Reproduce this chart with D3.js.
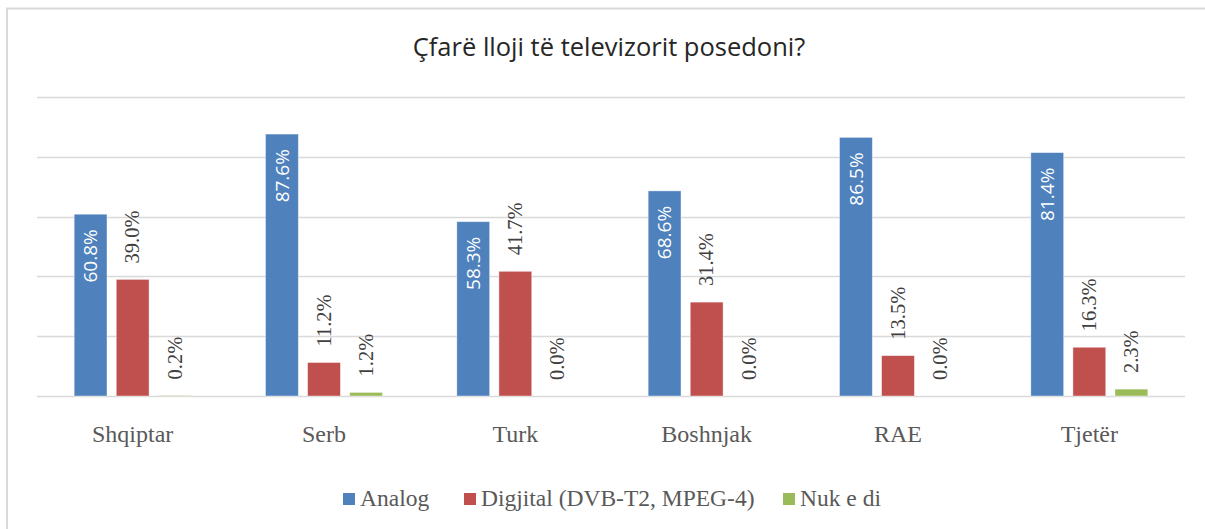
<!DOCTYPE html>
<html>
<head>
<meta charset="utf-8">
<script src="https://cdn.jsdelivr.net/npm/d3@7"></script>
<style>
  body { margin: 0; background: #fff; }
  svg { display: block; }
</style>
</head>
<body>
<div id="chart"></div>
<script>
// chart data
const categories = ['Shqiptar', 'Serb', 'Turk', 'Boshnjak', 'RAE', 'Tjetër'];
const seriesNames = ['Analog', 'Digjital (DVB-T2, MPEG-4)', 'Nuk e di'];
const analog = [60.8, 87.6, 58.3, 68.6, 86.5, 81.4];
const digjital = [39.0, 11.2, 41.7, 31.4, 13.5, 16.3];
const nukEDi = [0.2, 1.2, 0.0, 0.0, 0.0, 2.3];
const yTicks = [0, 20, 40, 60, 80, 100];

const colors = ['#4f81bd', '#c0504d', '#9bbb59'];
const allSeries = [analog, digjital, nukEDi];

var width = 1205;
var height = 529;
var serif = 'Liberation Serif, DejaVu Serif, serif';
var sans = 'Open Sans, Liberation Sans, sans-serif';

var svg = d3.select('#chart')
  .append('svg')
  .attr('width', width)
  .attr('height', height);

// outer frame (top + left edges visible)
svg.append('line')
  .attr('x1', 6).attr('x2', width).attr('y1', 8.5).attr('y2', 8.5)
  .attr('stroke', '#d9d9d9').attr('stroke-width', 2);
svg.append('line')
  .attr('x1', 7).attr('x2', 7).attr('y1', 8).attr('y2', height)
  .attr('stroke', '#d9d9d9').attr('stroke-width', 2);

svg.append('text')
  .attr('x', 609)
  .attr('y', 56)
  .attr('text-anchor', 'middle')
  .attr('font-family', sans)
  .attr('font-size', 25.5)
  .attr('fill', '#262626')
  .text('Çfarë lloji të televizorit posedoni?');

var x0 = d3.scaleBand()
  .domain(categories)
  .range([37, 1185]);

var x1 = d3.scaleBand()
  .domain(d3.range(seriesNames.length))
  .range([0, 117])
  .paddingInner(0.22);

var y = d3.scaleLinear()
  .domain([0, 100])
  .range([396, 97]);

var g = svg.append('g');

// gridlines
g.selectAll('.grid')
  .data(yTicks)
  .enter()
  .append('line')
  .attr('x1', 37)
  .attr('x2', 1185)
  .attr('y1', function (d) { return Math.round(y(d)) + 0.5; })
  .attr('y2', function (d) { return Math.round(y(d)) + 0.5; })
  .attr('stroke', '#d9d9d9')
  .attr('stroke-width', 1.3);

var groups = g.selectAll('.cat')
  .data(categories)
  .enter()
  .append('g')
  .attr('transform', function (d) {
    return 'translate(' + (x0(d) + x0.bandwidth() / 2 - 58.5) + ',0)';
  });

groups.each(function (cat, ci) {
  var grp = d3.select(this);
  allSeries.forEach(function (vals, si) {
    var v = vals[ci];
    var bx = x1(si);
    var bw = x1.bandwidth();
    grp.append('rect')
      .attr('x', bx)
      .attr('y', y(v))
      .attr('width', bw)
      .attr('height', y(0) - y(v))
      .attr('fill', colors[si])
      .attr('stroke', v > 0 ? 'rgba(255,255,255,0.5)' : 'none')
      .attr('stroke-width', 0.8);

    var cx = bx + bw / 2;
    var label = v.toFixed(1) + '%';
    if (si === 0) {
      // inside end, white
      var ty = y(v) + 15;
      grp.append('text')
        .attr('transform', 'translate(' + cx + ',' + ty + ') rotate(-90)')
        .attr('text-anchor', 'end')
        .attr('dy', '0.36em')
        .attr('font-family', sans)
        .attr('font-size', 19)
        .attr('fill', '#ffffff')
        .text(label);
    } else {
      var ty2 = y(v) - 16;
      grp.append('text')
        .attr('transform', 'translate(' + cx + ',' + ty2 + ') rotate(-90)')
        .attr('text-anchor', 'start')
        .attr('dy', '0.33em')
        .attr('font-family', serif)
        .attr('font-size', 20.5)
        .attr('fill', '#404040')
        .text(label);
    }
  });
});

// category axis labels
g.selectAll('.catlabel')
  .data(categories)
  .enter()
  .append('text')
  .attr('x', function (d) { return x0(d) + x0.bandwidth() / 2; })
  .attr('y', 442)
  .attr('text-anchor', 'middle')
  .attr('font-family', serif)
  .attr('font-size', 24)
  .attr('fill', '#595959')
  .text(function (d) { return d; });

// legend
var legendX = [343, 464, 783];
var legend = svg.selectAll('.legend')
  .data(seriesNames)
  .enter()
  .append('g')
  .attr('transform', function (d, i) { return 'translate(' + legendX[i] + ',493)'; });

legend.append('rect')
  .attr('width', 12)
  .attr('height', 12)
  .attr('fill', function (d, i) { return colors[i]; });

legend.append('text')
  .attr('x', 17)
  .attr('y', 13)
  .attr('font-family', serif)
  .attr('font-size', 23.5)
  .attr('fill', '#595959')
  .text(function (d) { return d; });
</script>
</body>
</html>
